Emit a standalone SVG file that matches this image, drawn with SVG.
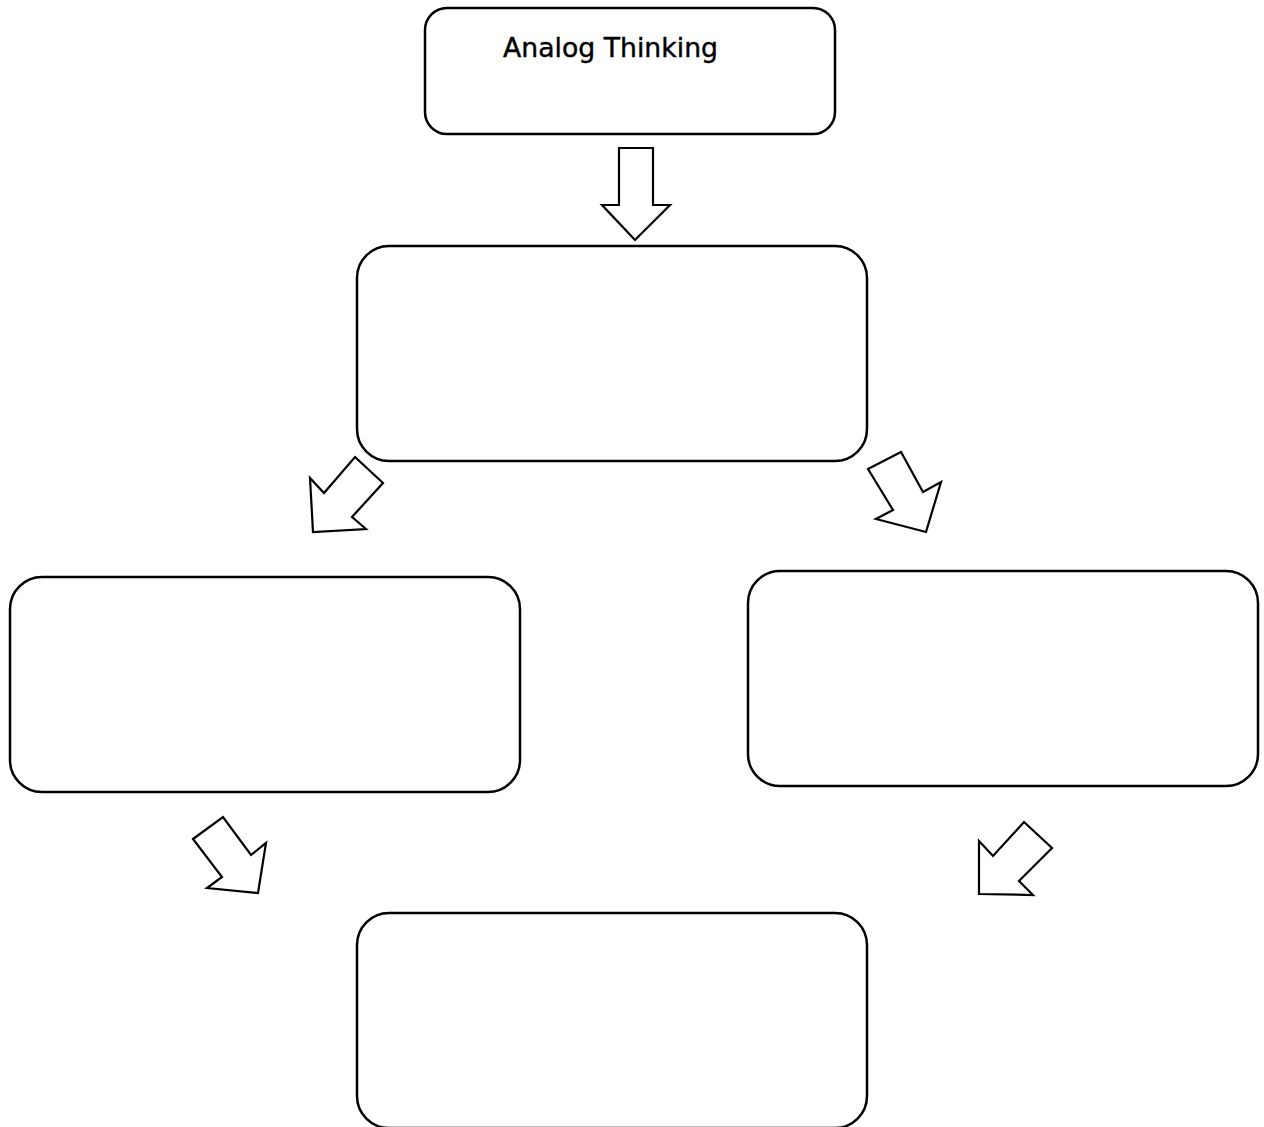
<svg xmlns="http://www.w3.org/2000/svg" width="1264" height="1127" viewBox="0 0 1264 1127">
<style>
.box{fill:#fff;stroke:#000;stroke-width:2.5}
.arr{fill:#fff;stroke:#000;stroke-width:2.2;stroke-linejoin:miter}
.lbl{font-family:"DejaVu Sans",sans-serif;font-size:26px;fill:#000;stroke:#000;stroke-width:0.4}
</style>
<rect width="1264" height="1127" fill="#fff"/>
<g id="node-analog">
<rect class="box" x="425" y="8" width="410" height="126" rx="22"/>
<text class="lbl" x="503" y="57" textLength="215" lengthAdjust="spacingAndGlyphs">Analog Thinking</text>
</g>
<g id="node-2"><rect class="box" x="357" y="246" width="510" height="215" rx="32"/></g>
<g id="node-3"><rect class="box" x="10" y="577" width="510" height="215" rx="32"/></g>
<g id="node-4"><rect class="box" x="748" y="571" width="510" height="215" rx="32"/></g>
<g id="node-5"><rect class="box" x="357" y="913" width="510" height="215" rx="32"/></g>
<g id="connectors">
<polygon class="arr" points="619,148 653,148 653,205 670,205 635,240 602,205 619,205"/>
<polygon class="arr" points="355,457 383,483 352,517 366,529 313,532 310,478 324,493"/>
<polygon class="arr" points="868,469 901,452 923,492 941,482 926,532 876,519 893,510"/>
<polygon class="arr" points="193,839 223,817 251,855 266,843 258,893 207,888 222,877"/>
<polygon class="arr" points="1024,822 1052,848 1019,881 1033,895 979,894 979,841 993,856"/>
</g>
</svg>
